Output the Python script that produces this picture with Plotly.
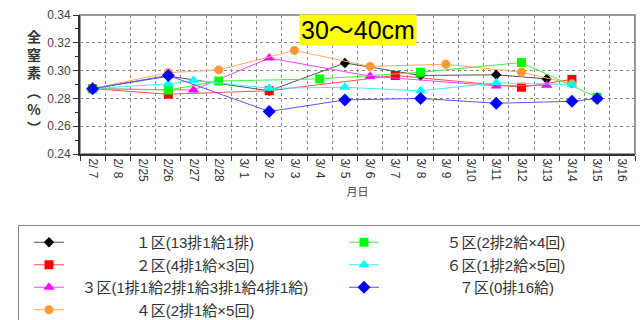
import plotly.graph_objects as go

# Sampling dates shown on the category axis (month/day)
dates = ["2/ 7", "2/ 8", "2/25", "2/26", "2/27", "2/28", "3/ 1", "3/ 2", "3/ 3",
         "3/ 4", "3/ 5", "3/ 6", "3/ 7", "3/ 8", "3/ 9", "3/10", "3/11", "3/12",
         "3/13", "3/14", "3/15", "3/16"]

zone_names = ["１区(13排1給1排)", "２区(4排1給×3回)", "３区(1排1給2排1給3排1給4排1給)",
              "４区(2排1給×5回)", "５区(2排2給×4回)", "６区(1排2給×5回)", "７区(0排16給)"]

# Total nitrogen (%) at 30-40 cm depth, per plot
zone1_dates = ["2/ 7", "2/26", "3/ 2", "3/ 5", "3/ 8", "3/11", "3/13"]
zone1_vals = [0.287, 0.296, 0.2855, 0.3055, 0.2965, 0.297, 0.294]

zone2_dates = ["2/ 7", "2/26", "3/ 2", "3/ 7", "3/12", "3/14"]
zone2_vals = [0.287, 0.283, 0.2855, 0.2965, 0.288, 0.2937]

zone3_dates = ["2/ 7", "2/27", "3/ 2", "3/ 6", "3/11", "3/13"]
zone3_vals = [0.287, 0.286, 0.309, 0.296, 0.289, 0.2894]

zone4_dates = ["2/ 7", "2/26", "2/28", "3/ 3", "3/ 6", "3/ 9", "3/12", "3/14"]
zone4_vals = [0.287, 0.2985, 0.3005, 0.3145, 0.303, 0.3046, 0.2988, 0.2905]

zone5_dates = ["2/ 7", "2/26", "2/28", "3/ 4", "3/ 8", "3/12", "3/15"]
zone5_vals = [0.287, 0.286, 0.2925, 0.294, 0.2988, 0.3058, 0.2807]

zone6_dates = ["2/ 7", "2/26", "2/27", "3/ 2", "3/ 5", "3/ 8", "3/11", "3/14"]
zone6_vals = [0.287, 0.2905, 0.293, 0.2873, 0.288, 0.2855, 0.2912, 0.290]

zone7_dates = ["2/ 7", "2/26", "3/ 2", "3/ 5", "3/ 8", "3/11", "3/14", "3/15"]
zone7_vals = [0.287, 0.2965, 0.2706, 0.2789, 0.280, 0.2765, 0.2779, 0.280]

series_dates = [zone1_dates, zone2_dates, zone3_dates, zone4_dates,
                zone5_dates, zone6_dates, zone7_dates]
series_vals = [zone1_vals, zone2_vals, zone3_vals, zone4_vals,
               zone5_vals, zone6_vals, zone7_vals]

styles = [
    dict(color="#000000", line="#555555", symbol="diamond", size=8),
    dict(color="#ff0000", line="#ff5050", symbol="square", size=9),
    dict(color="#ff00ff", line="#ff44ff", symbol="triangle-up", size=10),
    dict(color="#ff9933", line="#ffaa66", symbol="circle", size=9),
    dict(color="#00ff00", line="#44ee44", symbol="square", size=9),
    dict(color="#00ffff", line="#44eeee", symbol="triangle-up", size=10),
    dict(color="#0000ff", line="#5555ff", symbol="diamond", size=10),
]

LATIN = "Liberation Sans"
CJK = "Noto Sans CJK JP"
LEGEND_SIZE = 15
NBSP_W = 0.278 * LEGEND_SIZE  # no-break space width in Liberation Sans

# Legend entries are laid out row by row: (1,5), (2,6), (3,7), (4)
legend_rank = [1, 3, 5, 7, 2, 4, 6]


def text_width(s, size):
    w = 0.0
    for ch in s:
        if ord(ch) >= 0x2E80:
            w += 1.0
        elif ch in "()":
            w += 0.333
        elif ch == "×":
            w += 0.584
        else:
            w += 0.556
    return w * size


def centred(label, column):
    # pad with no-break spaces so the label sits centred in its legend column
    text_start = [70, 385][column]
    centre = [196, 508][column]
    gap = centre - text_width(label, LEGEND_SIZE) / 2 - text_start
    n = max(0, round(gap / NBSP_W))
    return "\u00a0" * n + label


fig = go.Figure()
for i, (name, xs, ys, st) in enumerate(zip(zone_names, series_dates, series_vals, styles)):
    fig.add_trace(go.Scatter(
        x=xs, y=ys, mode="lines+markers",
        name=centred(name, 0 if i < 4 else 1),
        legendrank=legend_rank[i],
        line=dict(color=st["line"], width=1),
        marker=dict(color=st["color"], symbol=st["symbol"], size=st["size"]),
    ))

fig.update_xaxes(
    type="category", categoryorder="array", categoryarray=dates,
    range=[-0.5, len(dates) - 0.5], tickvals=dates,
    tickson="boundaries", ticks="outside", ticklen=5, tickcolor="#333",
    tickangle=90, tickfont=dict(family=LATIN, size=12, color="#333"),
    showgrid=True, gridcolor="#888", griddash="dot", gridwidth=1,
    showline=True, linecolor="#333", linewidth=2,
    title=dict(text="月日", font=dict(family=CJK, size=11, color="#444"), standoff=7),
    fixedrange=True,
)
fig.update_yaxes(
    range=[0.24, 0.34], dtick=0.02, tick0=0.24, tickformat=".2f",
    ticks="outside", ticklen=5, tickcolor="#333",
    tickfont=dict(family=LATIN, size=12, color="#444"),
    minor=dict(dtick=0.01, ticks="outside", ticklen=3, tickcolor="#333", showgrid=False),
    showgrid=True, gridcolor="#888", griddash="dot", gridwidth=1,
    showline=True, linecolor="#333", linewidth=2, zeroline=False,
    fixedrange=True,
)

fig.add_shape(type="rect", xref="paper", yref="paper", x0=0, x1=1, y0=0, y1=1,
              line=dict(color="#9a9a9a", width=2), layer="below")

fig.add_annotation(
    text="30～40cm", xref="paper", yref="paper", x=0.5, y=0.89,
    xanchor="center", yanchor="middle", showarrow=False,
    font=dict(family=f"{LATIN}, {CJK}", size=25, color="#000"),
    bgcolor="#ffff00", borderpad=1,
)
fig.add_annotation(
    text="全<br>窒<br>素<br>︵<br>%<br>︶", xref="paper", yref="paper",
    x=-0.083, y=0.52, xanchor="center", yanchor="middle", showarrow=False,
    font=dict(family=f"{CJK}", size=14, color="#333", weight="bold"),
)

fig.update_layout(
    width=640, height=320,
    margin=dict(l=80, r=5, t=15, b=166, autoexpand=False),
    paper_bgcolor="white", plot_bgcolor="white",
    showlegend=True,
    legend=dict(
        orientation="h", xref="paper", yref="paper",
        x=(18 - 80) / 555, y=(154 - 225) / 139, xanchor="left", yanchor="top",
        entrywidth=260, entrywidthmode="pixels", indentation=10,
        bordercolor="#888", borderwidth=1, bgcolor="white",
        font=dict(family=f"{LATIN}, {CJK}", size=LEGEND_SIZE, color="#333"),
        traceorder="normal",
    ),
)

fig.write_html("out.html")
